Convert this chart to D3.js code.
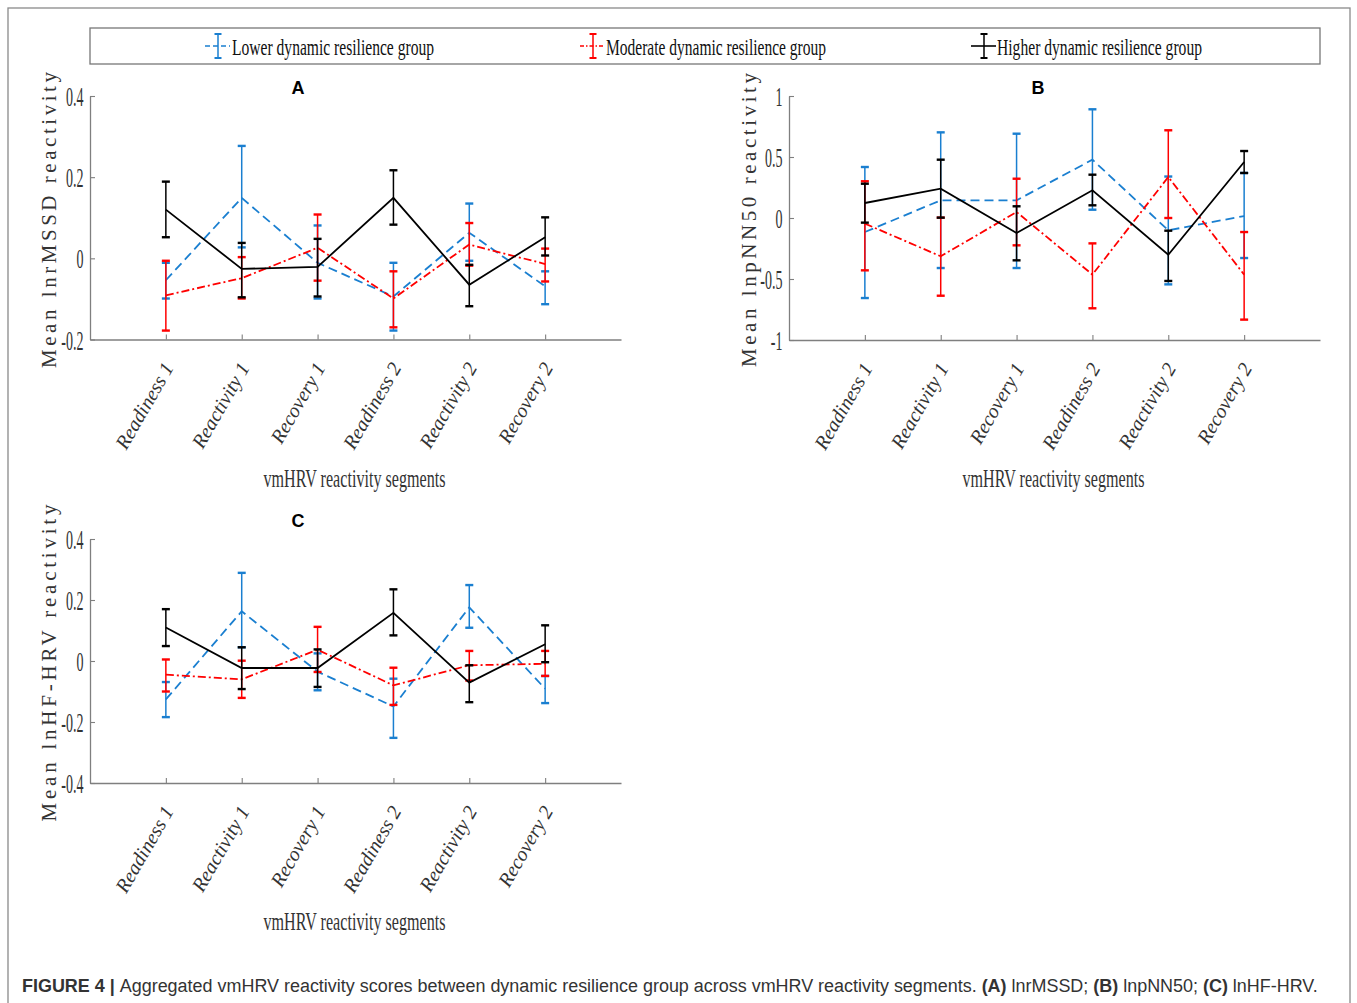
<!DOCTYPE html>
<html>
<head>
<meta charset="utf-8">
<script src="https://cdn.jsdelivr.net/npm/d3@7"></script>
<style>
  body { margin: 0; background: #fff; }
  svg { display: block; }
</style>
</head>
<body>
<svg id="chart"></svg>
<script>
const segments = ['Readiness 1', 'Reactivity 1', 'Recovery 1', 'Readiness 2', 'Reactivity 2', 'Recovery 2'];
const groupNames = ['Lower dynamic resilience group', 'Moderate dynamic resilience group', 'Higher dynamic resilience group'];

// A: lnrMSSD
const rmssdLowerMean = [-0.054, 0.149, -0.011, -0.094, 0.063, -0.069];
const rmssdLowerHi = [-0.011, 0.277, 0.081, -0.011, 0.135, -0.032];
const rmssdLowerLo = [-0.099, 0.027, -0.099, -0.178, -0.006, -0.113];
const rmssdModMean = [-0.091, -0.049, 0.026, -0.099, 0.034, -0.014];
const rmssdModHi = [-0.006, 0.003, 0.108, -0.032, 0.087, 0.024];
const rmssdModLo = [-0.178, -0.099, -0.055, -0.170, -0.018, -0.057];
const rmssdHighMean = [0.120, -0.026, -0.021, 0.149, -0.065, 0.052];
const rmssdHighHi = [0.189, 0.038, 0.048, 0.217, -0.016, 0.101];
const rmssdHighLo = [0.052, -0.096, -0.094, 0.083, -0.118, 0.007];

// B: lnpNN50
const pnnLowerMean = [-0.115, 0.145, 0.145, 0.478, -0.101, 0.016];
const pnnLowerHi = [0.418, 0.702, 0.691, 0.891, 0.340, 0.369];
const pnnLowerLo = [-0.656, -0.410, -0.410, 0.068, -0.544, -0.328];
const pnnModMean = [-0.046, -0.314, 0.049, -0.464, 0.336, -0.464];
const pnnModHi = [0.301, 0.003, 0.322, -0.208, 0.719, -0.115];
const pnnModLo = [-0.429, -0.637, -0.224, -0.740, 0.000, -0.833];
const pnnHighMean = [0.123, 0.240, -0.123, 0.227, -0.301, 0.459];
const pnnHighHi = [0.281, 0.478, 0.096, 0.355, -0.104, 0.549];
const pnnHighLo = [-0.038, 0.003, -0.347, 0.104, -0.516, 0.369];

// C: lnHF-HRV
const hfLowerMean = [-0.126, 0.163, -0.035, -0.149, 0.176, -0.091];
const hfLowerHi = [-0.069, 0.289, 0.025, -0.058, 0.249, -0.049];
const hfLowerLo = [-0.184, 0.045, -0.096, -0.252, 0.109, -0.138];
const hfModMean = [-0.045, -0.060, 0.037, -0.080, -0.014, -0.009];
const hfModHi = [0.005, 0.001, 0.112, -0.022, 0.033, 0.033];
const hfModLo = [-0.100, -0.121, -0.036, -0.144, -0.064, -0.049];
const hfHighMean = [0.110, -0.023, -0.023, 0.158, -0.071, 0.055];
const hfHighHi = [0.170, 0.045, 0.038, 0.235, -0.014, 0.117];
const hfHighLo = [0.049, -0.092, -0.085, 0.084, -0.135, -0.004];

const ticksA = [-0.2, 0, 0.2, 0.4];
const ticksB = [-1, -0.5, 0, 0.5, 1];
const ticksC = [-0.4, -0.2, 0, 0.2, 0.4];

const WIDTH = 1357;
const HEIGHT = 1003;
const SERIF = '"Liberation Serif", "Times New Roman", serif';
const SANS = '"Liberation Sans", Arial, sans-serif';
const AXIS_GRAY = '#7f7f7f';

const styles = [
  { color: '#1a7fd0', dash: '9,5' },
  { color: '#ff0000', dash: '8,3,2,3' },
  { color: '#000000', dash: null }
];

const svg = d3.select('#chart').attr('width', WIDTH).attr('height', HEIGHT);

// figure frame
svg.append('rect')
  .attr('x', 8).attr('y', 8)
  .attr('width', 1342).attr('height', 1010)
  .attr('fill', 'none').attr('stroke', '#8a8a8a').attr('stroke-width', 1.3);

/* --LEGEND-- */
const legendG = svg.append('g');
legendG.append('rect')
  .attr('x', 90).attr('y', 28).attr('width', 1230).attr('height', 36)
  .attr('fill', 'none').attr('stroke', '#777').attr('stroke-width', 1.3);

const legendPos = [{ icon: 218, tx: 232, w: 202 }, { icon: 593, tx: 606, w: 220 }, { icon: 984, tx: 997, w: 205 }];
legendPos.forEach((p, i) => {
  const st = styles[i];
  legendG.append('line')
    .attr('x1', p.icon - 13).attr('x2', p.icon + 12)
    .attr('y1', 46).attr('y2', 46)
    .attr('stroke', st.color).attr('stroke-width', 1.6)
    .attr('stroke-dasharray', i === 0 ? '5,3' : (i === 1 ? '4,2,1.5,2' : null));
  legendG.append('line')
    .attr('x1', p.icon).attr('x2', p.icon).attr('y1', 34).attr('y2', 58)
    .attr('stroke', st.color).attr('stroke-width', 1.5);
  [34, 58].forEach(cy => legendG.append('line')
    .attr('x1', p.icon - 3.5).attr('x2', p.icon + 3.5).attr('y1', cy).attr('y2', cy)
    .attr('stroke', st.color).attr('stroke-width', 2));
  legendG.append('text')
    .attr('x', p.tx).attr('y', 55)
    .attr('font-family', SERIF).attr('font-size', 24)
    .attr('textLength', p.w).attr('lengthAdjust', 'spacingAndGlyphs')
    .attr('fill', '#111')
    .text(groupNames[i]);
});

/* --PANELS-- */
const panels = [
  { letter: 'A', lx: 298, ly: 94, left: 90, right: 621, top: 96, bottom: 339.5, domain: [-0.2, 0.4], ticks: ticksA,
    ylabel: 'Mean lnrMSSD reactivity', ylx: 56, yly: 220, ylw: 296,
    series: [[rmssdLowerMean, rmssdLowerLo, rmssdLowerHi], [rmssdModMean, rmssdModLo, rmssdModHi], [rmssdHighMean, rmssdHighLo, rmssdHighHi]] },
  { letter: 'B', lx: 1038, ly: 94, left: 789, right: 1320, top: 96, bottom: 340, domain: [-1, 1], ticks: ticksB,
    ylabel: 'Mean lnpNN50 reactivity', ylx: 756, yly: 220, ylw: 294,
    series: [[pnnLowerMean, pnnLowerLo, pnnLowerHi], [pnnModMean, pnnModLo, pnnModHi], [pnnHighMean, pnnHighLo, pnnHighHi]] },
  { letter: 'C', lx: 298, ly: 527, left: 90, right: 621, top: 539, bottom: 783, domain: [-0.4, 0.4], ticks: ticksC,
    ylabel: 'Mean lnHF-HRV reactivity', ylx: 56, yly: 663, ylw: 317,
    series: [[hfLowerMean, hfLowerLo, hfLowerHi], [hfModMean, hfModLo, hfModHi], [hfHighMean, hfHighLo, hfHighHi]] }
];

panels.forEach(p => {
  const g = svg.append('g');
  const x = d3.scaleLinear().domain([0, 7]).range([p.left, p.right]);
  const y = d3.scaleLinear().domain(p.domain).range([p.bottom, p.top]);

  // y axis, ticks pointing inward
  const yAxis = d3.axisLeft(y)
    .tickValues(p.ticks)
    .tickSizeInner(-5).tickSizeOuter(0)
    .tickPadding(13)
    .tickFormat(d => String(d));
  const yG = g.append('g').attr('transform', `translate(${p.left},0)`).call(yAxis);
  yG.select('.domain').attr('stroke', AXIS_GRAY).attr('stroke-width', 1.3);
  yG.selectAll('.tick line').attr('stroke', AXIS_GRAY).attr('stroke-width', 1.1);
  yG.selectAll('.tick text')
    .attr('font-family', SERIF).attr('font-size', 28).attr('fill', '#333')
    .attr('dy', '0.34em')
    .attr('transform', 'scale(0.5,1)');

  // x axis
  const xAxis = d3.axisBottom(x)
    .tickValues(d3.range(1, 7))
    .tickSizeInner(-5).tickSizeOuter(0)
    .tickFormat(d => segments[d - 1]);
  const xG = g.append('g').attr('transform', `translate(0,${p.bottom})`).call(xAxis);
  xG.select('.domain').attr('stroke', AXIS_GRAY).attr('stroke-width', 1.3);
  xG.selectAll('.tick line').attr('stroke', AXIS_GRAY).attr('stroke-width', 1.1);
  xG.selectAll('.tick text')
    .attr('font-family', SERIF).attr('font-style', 'italic').attr('font-size', 20).attr('fill', '#333')
    .attr('y', 0).attr('dy', 0)
    .attr('text-anchor', 'end')
    .attr('transform', 'translate(8,28) rotate(-60)');

  // x axis title
  g.append('text')
    .attr('x', (p.left + p.right) / 2 - 1).attr('y', p.bottom + 147)
    .attr('text-anchor', 'middle')
    .attr('font-family', SERIF).attr('font-size', 25).attr('fill', '#333')
    .attr('textLength', 182).attr('lengthAdjust', 'spacingAndGlyphs')
    .text('vmHRV reactivity segments');

  // y axis title
  g.append('text')
    .attr('transform', `translate(${p.ylx},${p.yly}) rotate(-90)`)
    .attr('text-anchor', 'middle')
    .attr('font-family', SERIF).attr('font-size', 21).attr('fill', '#333')
    .attr('textLength', p.ylw).attr('lengthAdjust', 'spacing')
    .text(p.ylabel);

  // panel letter
  g.append('text')
    .attr('x', p.lx).attr('y', p.ly)
    .attr('text-anchor', 'middle')
    .attr('font-family', SANS).attr('font-weight', 'bold').attr('font-size', 18)
    .text(p.letter);

  // series
  p.series.forEach((s, si) => {
    const st = styles[si];
    const [mean, lo, hi] = s;
    const rows = mean.map((m, i) => ({ i: i + 1, m, lo: lo[i], hi: hi[i] }));
    const sg = g.append('g');
    sg.append('path')
      .datum(rows)
      .attr('fill', 'none')
      .attr('stroke', st.color)
      .attr('stroke-width', 1.8)
      .attr('stroke-dasharray', st.dash)
      .attr('d', d3.line().x(d => x(d.i)).y(d => y(d.m)));
    sg.selectAll('line.bar').data(rows).enter().append('line')
      .attr('class', 'bar')
      .attr('x1', d => x(d.i)).attr('x2', d => x(d.i))
      .attr('y1', d => y(d.lo)).attr('y2', d => y(d.hi))
      .attr('stroke', st.color).attr('stroke-width', 1.5);
    ['lo', 'hi'].forEach(k => {
      sg.selectAll('line.cap-' + k).data(rows).enter().append('line')
        .attr('class', 'cap-' + k)
        .attr('x1', d => x(d.i) - 4).attr('x2', d => x(d.i) + 4)
        .attr('y1', d => y(d[k])).attr('y2', d => y(d[k]))
        .attr('stroke', st.color).attr('stroke-width', 2.4);
    });
  });
});

/* --CAPTION-- */
// squeezed to the printed width with a horizontal scale
const cap = svg.append('text')
  .attr('x', 0).attr('y', 0)
  .attr('font-family', SANS).attr('font-size', 19).attr('fill', '#333');
[['FIGURE 4 | ', true], ['Aggregated vmHRV reactivity scores between dynamic resilience group across vmHRV reactivity segments. ', false],
 ['(A)', true], [' lnrMSSD; ', false], ['(B)', true], [' lnpNN50; ', false], ['(C)', true], [' lnHF-HRV.', false]]
  .forEach(([t, b]) => cap.append('tspan').attr('font-weight', b ? 'bold' : 'normal').text(t));
const capW = cap.node().getBBox().width;
cap.attr('transform', `translate(22,992) scale(${1297 / capW},1)`);
</script>
</body>
</html>
